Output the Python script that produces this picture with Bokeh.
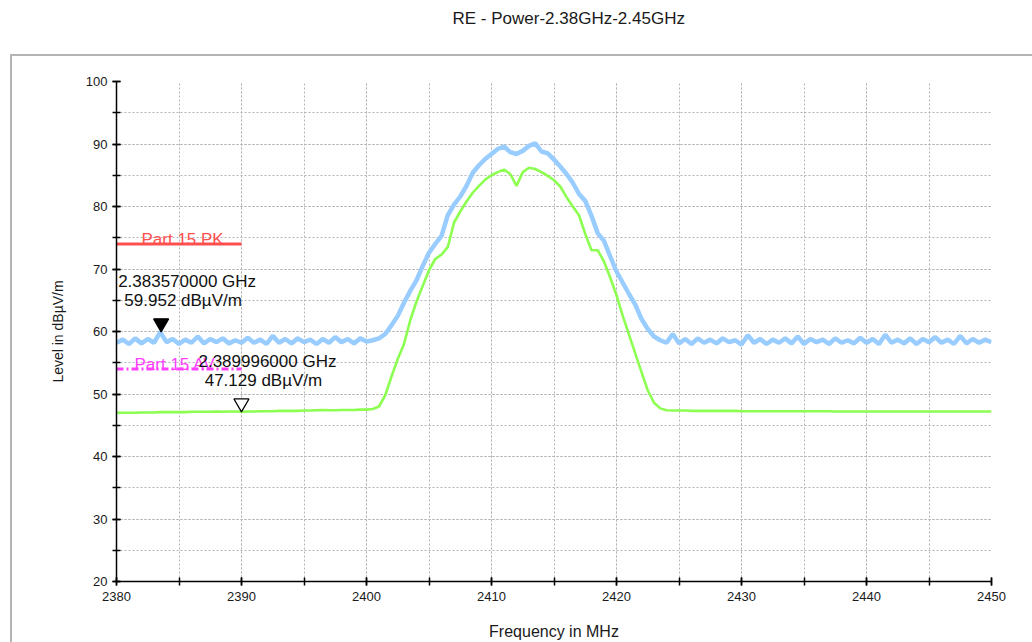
from bokeh.plotting import figure
from bokeh.models import ColumnDataSource, Range1d, SingleIntervalTicker, LabelSet, Label, Title
from bokeh.core.properties import value
from bokeh.embed import file_html
from bokeh.resources import INLINE

# ---------------- data ----------------
title_text = "RE - Power-2.38GHz-2.45GHz"
x_label = "Frequency in MHz"
y_label = "Level in dBµV/m"

freq_start = 2380.0
freq_step = 0.5

# Peak trace (blue), read at 0.5 MHz steps
peak_level = [
    58.2, 58.7, 58.0, 58.9, 58.1, 58.8, 58.2, 59.9, 58.3, 58.8,
    58.0, 58.7, 58.2, 59.2, 58.1, 58.8, 58.3, 58.9, 58.1, 58.6,
    58.2, 59.0, 58.2, 58.7, 58.0, 59.3, 58.2, 58.8, 58.1, 58.9,
    58.3, 58.7, 58.0, 58.8, 58.2, 59.1, 58.3, 58.8, 58.1, 58.9,
    58.4, 58.6, 58.9, 59.6, 61.0, 62.5, 64.6, 66.5, 68.2, 70.5,
    72.6, 74.0, 75.3, 78.6, 80.3, 81.6, 83.3, 85.4, 86.6, 87.6,
    88.4, 89.2, 89.6, 88.7, 88.4, 88.9, 89.7, 90.1, 88.8, 88.5,
    87.5, 86.4, 85.2, 83.8, 82.0, 80.9, 78.5, 75.7, 74.5, 72.0,
    69.6, 67.8, 66.0, 64.3, 62.0, 60.4, 59.2, 58.6, 58.2, 59.6,
    58.1, 58.8, 58.0, 58.9, 58.2, 58.7, 58.1, 58.9, 58.3, 58.6,
    57.9, 59.4, 58.2, 58.8, 58.0, 58.7, 58.2, 58.9, 58.1, 59.2,
    58.0, 58.8, 58.3, 58.7, 58.0, 58.9, 58.2, 58.6, 58.1, 59.0,
    58.2, 58.8, 58.0, 59.5, 58.2, 58.7, 58.1, 58.9, 58.0, 58.8,
    58.3, 59.1, 58.2, 58.7, 58.0, 59.3, 58.1, 58.8, 58.2, 58.7,
    58.3,
]

# Average trace (green), read at 0.5 MHz steps
avg_level = [
    47.0, 47.0, 47.0, 47.0, 47.05, 47.05, 47.05, 47.1, 47.1, 47.1,
    47.1, 47.1, 47.15, 47.15, 47.15, 47.15, 47.2, 47.15, 47.2, 47.2,
    47.15, 47.2, 47.2, 47.25, 47.25, 47.25, 47.3, 47.3, 47.3, 47.3,
    47.35, 47.35, 47.4, 47.45, 47.4, 47.4, 47.45, 47.45, 47.45, 47.5,
    47.5, 47.6, 48.0, 49.8, 52.8, 55.6, 58.0, 61.8, 64.8, 67.3,
    69.8, 71.6, 72.3, 73.5, 77.4, 79.2, 80.8, 82.2, 83.3, 84.3,
    85.0, 85.5, 85.9, 85.2, 83.3, 85.5, 86.2, 86.0, 85.5, 84.9,
    84.2, 83.2, 81.5, 80.0, 78.6, 75.6, 73.0, 73.0, 71.2, 68.6,
    65.8, 62.5, 59.5, 56.5, 53.5, 50.6, 48.6, 47.7, 47.4, 47.35,
    47.35, 47.35, 47.3, 47.3, 47.3, 47.3, 47.3, 47.3, 47.3, 47.3,
    47.25, 47.25, 47.25, 47.25, 47.25, 47.25, 47.25, 47.25, 47.25, 47.25,
    47.25, 47.25, 47.25, 47.25, 47.25, 47.2, 47.2, 47.2, 47.2, 47.2,
    47.2, 47.2, 47.2, 47.2, 47.2, 47.2, 47.2, 47.2, 47.2, 47.2,
    47.2, 47.2, 47.2, 47.2, 47.2, 47.2, 47.2, 47.2, 47.2, 47.2,
    47.2,
]

freq = [freq_start + freq_step * i for i in range(len(peak_level))]

limit_names = ["Part 15 PK", "Part 15 AV"]
limit_level = [74.0, 54.0]
limit_start = [2380.0, 2380.0]
limit_stop = [2390.0, 2390.0]

marker_freq = [2383.57, 2389.996]   # MHz
marker_level = [59.952, 47.129]     # dBµV/m

x_ticks_range = (2380, 2450)
y_ticks_range = (20, 100)

# ---------------- styles ----------------
FONT = "Liberation Sans"
BLUE = "#99ccff"
GREEN = "#8cff50"
RED = "#ff5050"
MAGENTA = "#ff40ff"
GRID = "#b4b4b4"
FRAME = "#b4b4b4"

p = figure(
    frame_width=875, frame_height=500,
    min_border_left=116, min_border_right=41,
    min_border_top=81, min_border_bottom=61,
    x_range=Range1d(*x_ticks_range), y_range=Range1d(*y_ticks_range),
    output_backend="svg", toolbar_location=None,
    background_fill_color="white", border_fill_color=None,
    styles={
        "background-color": "white",
        "background-image": f"linear-gradient({FRAME}, {FRAME}), linear-gradient({FRAME}, {FRAME})",
        "background-size": "2px 700px, 1200px 2px",
        "background-position": "10px 54px, 10px 54px",
        "background-repeat": "no-repeat",
    },
)
p.outline_line_color = None

# spacer between frame and title (pushes the title up above the grey border)
p.add_layout(Title(text=" ", text_font_size="2px", standoff=50), "above")

# title
p.title.text = title_text
p.title.align = "left"
p.title.offset = 336
p.title.vertical_align = "bottom"
p.title.standoff = 0
p.title.text_font = FONT
p.title.text_font_size = "17px"
p.title.text_font_style = "normal"
p.title.text_color = "#1a1a1a"

for ax in (p.xaxis[0], p.yaxis[0]):
    ax.ticker = SingleIntervalTicker(interval=10, num_minor_ticks=2)
    ax.axis_line_color = "black"
    ax.axis_line_width = 1.5
    ax.major_tick_line_color = "black"
    ax.major_tick_line_width = 1.5
    ax.minor_tick_line_color = "black"
    ax.minor_tick_line_width = 1.5
    ax.major_tick_in = 4
    ax.major_tick_out = 4
    ax.minor_tick_in = 4
    ax.minor_tick_out = 4
    ax.major_label_text_font = FONT
    ax.major_label_text_font_size = "13px"
    ax.major_label_text_color = "#1a1a1a"
    ax.axis_label_text_font = FONT
    ax.axis_label_text_font_style = "normal"
    ax.axis_label_text_color = "#1a1a1a"

p.xaxis.axis_label = x_label
p.xaxis.axis_label_text_font_size = "16px"
p.xaxis.major_label_standoff = 6
p.xaxis.axis_label_standoff = 19
p.yaxis.axis_label = y_label
p.yaxis.axis_label_text_font_size = "14px"
p.yaxis.major_label_standoff = 5
p.yaxis.axis_label_standoff = 17

for g in (p.xgrid[0], p.ygrid[0]):
    g.grid_line_color = GRID
    g.grid_line_dash = "2 2"
    g.grid_line_width = 1
    g.minor_grid_line_color = GRID
    g.minor_grid_line_dash = "2 2"
    g.minor_grid_line_width = 1

# traces
src = ColumnDataSource(dict(f=freq, pk=peak_level, av=avg_level))
p.line("f", "pk", source=src, line_color=BLUE, line_width=4.5)
p.line("f", "av", source=src, line_color=GREEN, line_width=2.6)

# limit lines
lim_colors = [RED, MAGENTA]
lim_dash = ["solid", "7 3 2 3"]
lim_text_dx = [25, 18]
for i in range(len(limit_names)):
    p.segment(x0=[limit_start[i]], y0=[limit_level[i]], x1=[limit_stop[i]], y1=[limit_level[i]],
              line_color=lim_colors[i], line_width=3, line_dash=lim_dash[i])
    p.add_layout(Label(x=limit_start[i], y=limit_level[i], x_offset=lim_text_dx[i], y_offset=5,
                       text=limit_names[i], text_color=lim_colors[i], text_font=FONT,
                       text_font_size="17px", text_baseline="alphabetic", text_align="left"))

# markers
tri_size = 15
tri_offset_db = 0.577 * tri_size / 6.25
msrc = ColumnDataSource(dict(
    x=marker_freq,
    y=marker_level,
    ty=[v + tri_offset_db for v in marker_level],
    fill=["black", "white"],
    t1=["%.9f GHz" % (f / 1000.0) for f in marker_freq],
    t2=["%.3f dBµV/m" % v for v in marker_level],
))
p.scatter("x", "ty", source=msrc, marker="inverted_triangle", size=tri_size,
          fill_color="fill", line_color="black", line_width=1.3)
p.add_layout(LabelSet(x="x", y="y", text="t1", source=msrc, x_offset=26, y_offset=50,
                      text_align="center", text_baseline="middle", text_font=value(FONT),
                      text_font_size="17px", text_color="#111111"))
p.add_layout(LabelSet(x="x", y="y", text="t2", source=msrc, x_offset=22, y_offset=31,
                      text_align="center", text_baseline="middle", text_font=value(FONT),
                      text_font_size="17px", text_color="#111111"))

open("out.html", "w").write(file_html(p, INLINE))
